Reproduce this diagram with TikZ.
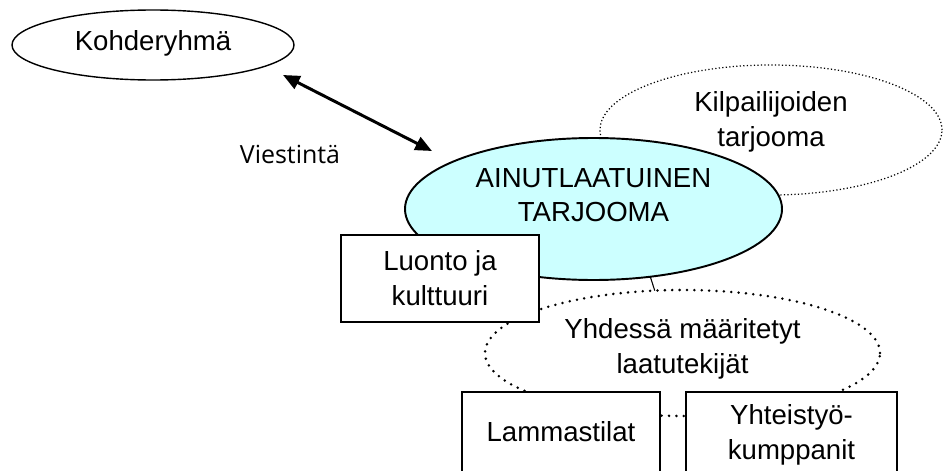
\documentclass[tikz,border=0pt]{standalone}
\usepackage{fontspec}
\setmainfont{Liberation Sans}
\newfontfamily\labelFont{Open Sans}
\usetikzlibrary{shapes.geometric,arrows.meta}
\newcommand{\pxu}{0.02cm}
\definecolor{offerCyan}{HTML}{CCFFFF}

\begin{document}
\begin{tikzpicture}
            [x=\pxu, y=-\pxu,
             every node/.style={font=\fontsize{15.7}{19.8}\selectfont},
             myEllipse/.style={ellipse,
                        draw,
                        align=center,
                        inner sep=0pt,
                        outer sep=0pt},
             myBox/.style={rectangle,
                        draw,
                        fill=white,
                        line width=1.1pt,
                        align=center,
                        inner sep=0pt,
                        minimum height=80*\pxu},
             myDots/.style={line width=1.6pt, line cap=round, dash pattern=on 0pt off 4.2pt}]

            \path[use as bounding box, clip] (0,0) rectangle (943,470);

            \node[myEllipse, line width=0.8pt, minimum width=282*\pxu, minimum height=70*\pxu, text depth=5pt] (targetGroup) at (153,45) {Kohderyhmä};
            \node[myEllipse, line width=0.7pt, dash pattern=on 0.7pt off 1.3pt, minimum width=342*\pxu, minimum height=130*\pxu, text depth=12.5pt] (rivalOffer) at (771,130) {Kilpailijoiden\\tarjooma};
            \node[myEllipse, fill=offerCyan, line width=1.1pt, minimum width=377*\pxu, minimum height=142*\pxu, text depth=15.9pt] (uniqueOffer) at (593.5,209) {AINUTLAATUINEN\\TARJOOMA};
            \node[myEllipse, myDots, minimum width=395*\pxu, minimum height=126*\pxu, text depth=8pt] (qualityFactors) at (682.5,353) {Yhdessä määritetyt\\laatutekijät};

            \node[font=\labelFont\fontsize{14.2}{17}\selectfont] (messaging) at (290,154) {Viestintä};

            \coordinate (msgStart) at (283,75);
            \coordinate (msgEnd) at (432,151);

            \draw [{Triangle[length=9.5pt, width=8pt]}-{Triangle[length=9.5pt, width=8pt]}, line width=1.7pt] (msgStart) to (msgEnd);
            \draw [line width=0.6pt] (uniqueOffer.-50) to (qualityFactors.114);

            \node[myBox, minimum width=198*\pxu, minimum height=87*\pxu] (natureCulture) at (440,278.5) {Luonto ja\\kulttuuri};
            \node[myBox, minimum width=198*\pxu] (sheepFarms) at (561,432) {Lammastilat};
            \node[myBox, minimum width=211*\pxu, text depth=0pt] (partners) at (791.5,432) {Yhteistyö-\\kumppanit};
        \end{tikzpicture}
\end{document}
